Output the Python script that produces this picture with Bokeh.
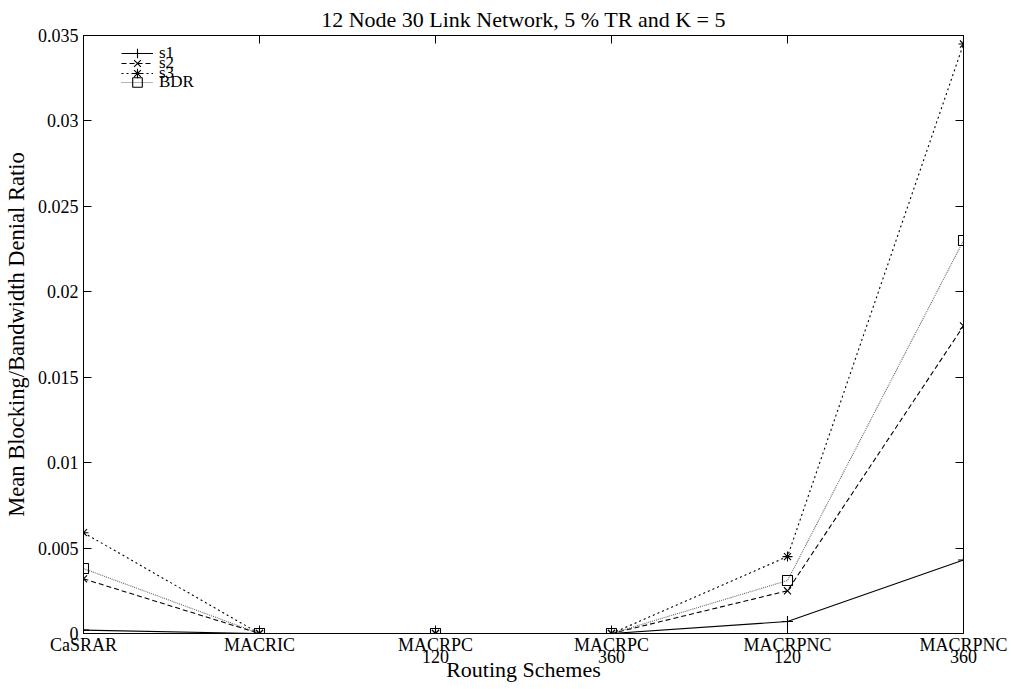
from bokeh.plotting import figure
from bokeh.models import Range1d, FixedTicker, LinearAxis, Legend, CustomJSTickFormatter
from bokeh.embed import file_html
from bokeh.resources import INLINE

# ---- data ----
title_text = "12 Node 30 Link Network, 5 % TR and K = 5"
schemes = ["CaSRAR", "MACRIC", "MACRPC\n120", "MACRPC\n360", "MACRPNC\n120", "MACRPNC\n360"]
s1 = [0.0002, 0.0, 0.0, 0.0, 0.0007, 0.0043]
s2 = [0.0032, 0.0, 0.0, 0.0, 0.0025, 0.0180]
s3 = [0.0059, 0.0, 0.0, 0.0, 0.0045, 0.0345]
bdr = [0.0038, 0.0, 0.0, 0.0, 0.0031, 0.0230]
y_ticks = [0, 0.005, 0.01, 0.015, 0.02, 0.025, 0.03, 0.035]
y_tick_labels = ["0", "0.005", "0.01", "0.015", "0.02", "0.025", "0.03", "0.035"]

FONT = "Liberation Serif"
xs = list(range(len(schemes)))

p = figure(width=1011, height=689, output_backend="svg", toolbar_location=None,
           x_range=Range1d(0, len(schemes) - 1), y_range=Range1d(0, 0.035),
           title=title_text,
           min_border_left=82, min_border_right=48, min_border_top=35, min_border_bottom=56)

p.title.align = "center"
p.title.text_font = FONT
p.title.text_font_size = "22px"
p.title.text_font_style = "normal"
p.title.text_color = "black"
p.title.offset = 0
p.title.standoff = 8

p.xgrid.visible = False
p.ygrid.visible = False
p.outline_line_color = "black"
p.outline_line_width = 1
p.background_fill_color = "white"
p.border_fill_color = "white"

xt = FixedTicker(ticks=xs, minor_ticks=[])
yt = FixedTicker(ticks=y_ticks, minor_ticks=[])

xa = p.xaxis[0]
xa.ticker = xt
xa.major_label_overrides = {i: s for i, s in zip(xs, schemes)}
xa.axis_label = "Routing Schemes"
ya = p.yaxis[0]
ya.ticker = yt
ya.major_label_overrides = {v: s for v, s in zip(y_ticks, y_tick_labels)}
ya.axis_label = "Mean Blocking/Bandwidth Denial Ratio"

for ax in (xa, ya):
    ax.axis_label_text_font = FONT
    ax.axis_label_text_font_size = "22px"
    ax.axis_label_text_font_style = "normal"
    ax.axis_label_text_color = "black"
    ax.major_label_text_font = FONT
    ax.major_label_text_font_size = "18px"
    ax.major_label_text_color = "black"
    ax.major_tick_in = 8
    ax.major_tick_out = 0
    ax.minor_tick_in = 0
    ax.minor_tick_out = 0
    ax.axis_line_color = "black"
    ax.major_tick_line_color = "black"
    ax.major_label_standoff = 5

ya.axis_label_text_font_size = "22.5px"
xa.major_label_text_line_height = 0.62
xa.major_label_standoff = 1
xa.axis_label_standoff = -13
ya.axis_label_standoff = 6

blank = CustomJSTickFormatter(code="return ''")
# mirrored axes (ticks only)
top = LinearAxis(ticker=FixedTicker(ticks=xs, minor_ticks=[]), formatter=blank,
                 major_tick_in=8, major_tick_out=0, minor_tick_in=0, minor_tick_out=0,
                 major_label_standoff=0, axis_line_color="black")
right = LinearAxis(ticker=FixedTicker(ticks=y_ticks, minor_ticks=[]), formatter=blank,
                   major_tick_in=8, major_tick_out=0, minor_tick_in=0, minor_tick_out=0,
                   major_label_standoff=0, axis_line_color="black")
p.add_layout(top, "above")
p.add_layout(right, "right")

series = [
    ("s1", s1, "black", "solid", "cross", 11),
    ("s2", s2, "black", "5 3", "x", 10),
    ("s3", s3, "black", "2 3", "asterisk", 10),
    ("BDR", bdr, "#666666", "1 1", "square", 10),
]

# one compact legend per series, stacked tightly like the original key
legend_bottoms = [568, 558, 548, 539]
for (name, ys, color, dash, marker, size), yb in zip(series, legend_bottoms):
    l = p.line(xs, ys, line_color=color, line_dash=dash, line_width=1.1)
    m = p.scatter(xs, ys, marker=marker, size=size, line_color="black", fill_color=None, line_width=1.1)
    lg = Legend(items=[(name, [l, m])], location=(38, yb))
    lg.label_text_font = FONT
    lg.label_text_font_size = "17px"
    lg.label_text_color = "black"
    lg.label_height = 24
    lg.glyph_height = 24
    lg.glyph_width = 32
    lg.label_standoff = 6
    lg.padding = 0
    lg.margin = 0
    lg.border_line_color = None
    lg.background_fill_alpha = 0
    p.add_layout(lg, "center")

open("out.html", "w").write(file_html(p, INLINE))
